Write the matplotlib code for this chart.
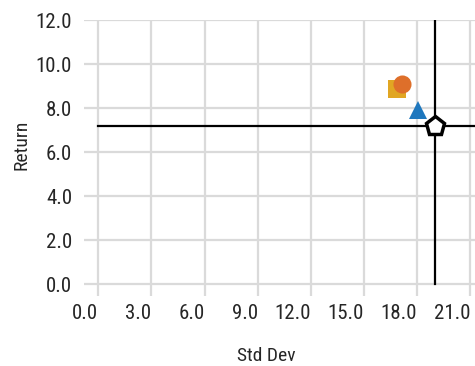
import matplotlib
matplotlib.use("Agg")
import matplotlib.pyplot as plt
from matplotlib import font_manager

names = ["Fund A", "Fund B", "Fund C", "Benchmark"]
std_dev = [16.9, 17.15, 18.05, 19.0]
returns = [8.85, 9.1, 7.9, 7.2]
markers = ["s", "o", "^", "p"]
colors = ["#E1A623", "#DE6F2A", "#1F78BE", "#FFFFFF"]
edges = ["#E1A623", "#DE6F2A", "#1F78BE", "#000000"]
sizes = [12.5, 13, 13, 14]

ref_x = 19.0
ref_y = 7.2
x_ticks = [0, 3, 6, 9, 12, 15, 18, 21]
y_ticks = [0, 2, 4, 6, 8, 10, 12]

avail = {f.name for f in font_manager.fontManager.ttflist}
fams = [f for f in ["Roboto Condensed", "Archivo Narrow", "Barlow Semi Condensed"] if f in avail]
plt.rcParams["font.family"] = fams + ["DejaVu Sans"]

W, H = 475, 366
fig = plt.figure(figsize=(W / 100, H / 100), dpi=100)
ax = fig.add_axes([84 / W, (H - 296) / H, (475 - 84) / W, (296 - 20) / H])
ax.set_xlim(-0.81, 21.28)
ax.set_ylim(-0.545, 12.0)
for s in ax.spines.values():
    s.set_visible(False)

ax.set_xticks(x_ticks)
ax.set_yticks(y_ticks)
ax.set_xticklabels([f"{v:.1f}" for v in x_ticks], ha="right")
ax.set_yticklabels([f"{v:.1f}" for v in y_ticks])
ax.tick_params(length=0, labelsize=15, labelcolor="#262626")
ax.tick_params(axis="x", pad=6)
ax.tick_params(axis="y", pad=8.5)
ax.grid(True, color="#DADADA", linewidth=1.6)
ax.set_axisbelow(True)

ax.plot([0, 21.28], [ref_y, ref_y], color="black", lw=1.6, zorder=3, clip_on=False)
ax.plot([ref_x, ref_x], [0, 12.0], color="black", lw=1.6, zorder=3)

for i in range(len(names)):
    ax.plot(std_dev[i], returns[i], marker=markers[i], ms=sizes[i],
            mfc=colors[i], mec=edges[i], mew=2.5 if i == 3 else 0,
            linestyle="none", zorder=4 + i, label=names[i])

fig.text(22 / W, 1 - 145 / H, "Return", rotation=90, ha="center", va="center",
         fontsize=14, color="#262626")
fig.text(266 / W, 1 - 356 / H, "Std Dev", ha="center", va="center",
         fontsize=14, color="#262626")

fig.savefig("out.png", dpi=100)
